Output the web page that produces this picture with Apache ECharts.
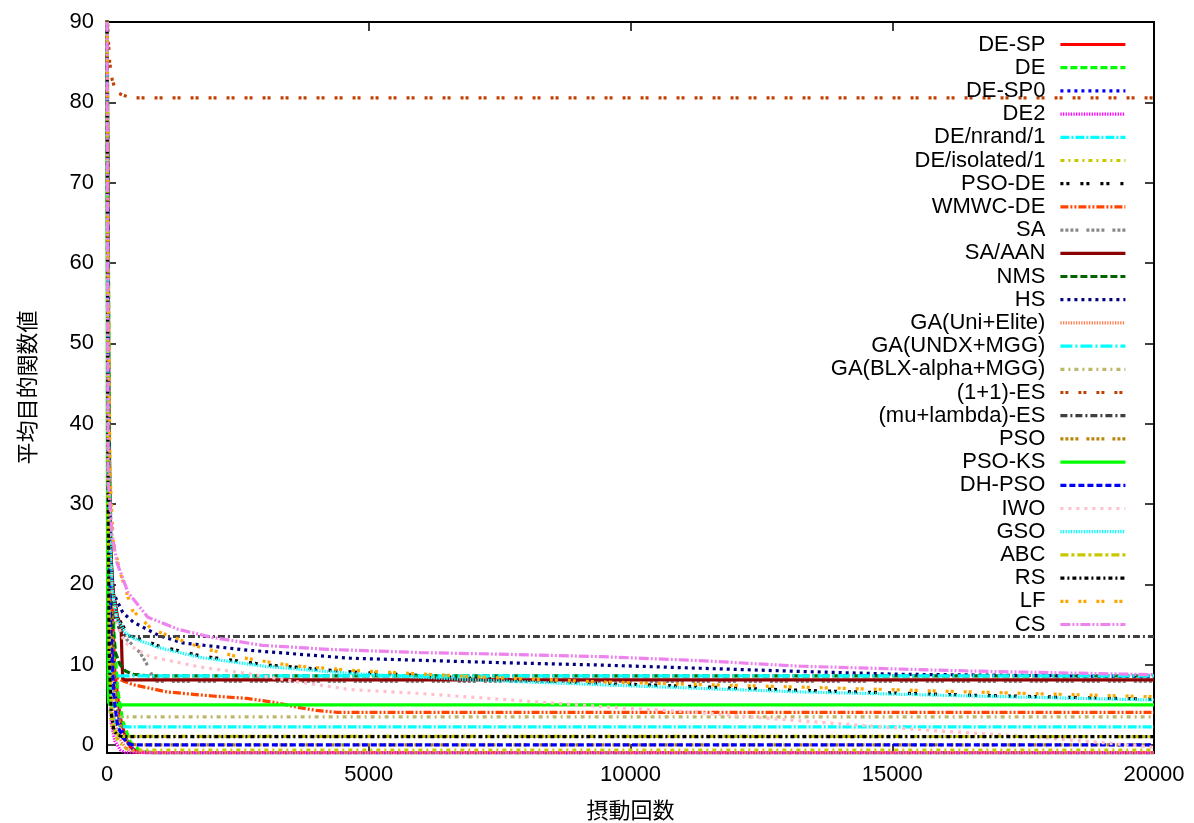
<!DOCTYPE html>
<html>
<head>
<meta charset="utf-8">
<script src="https://cdn.jsdelivr.net/npm/echarts@6/dist/echarts.min.js"></script>
<style>
  html, body { margin: 0; padding: 0; background: #ffffff; }
  #chart { width: 1194px; height: 823px; }
</style>
</head>
<body>
<div id="chart"></div>
<script>
// Convergence curves: [evaluation count, mean objective value]
const deSp        = [[0,95],[40,40],[80,20],[150,9],[250,3.5],[350,1],[450,-0.3],[600,-0.85],[800,-0.95],[20000,-0.95]];
const de          = [[0,95],[50,35],[100,18],[200,7],[300,3],[450,0.3],[650,-0.8],[900,-0.95],[20000,-0.95]];
const deSp0       = [[0,95],[40,30],[90,14],[160,6],[250,2.5],[350,0.6],[500,-0.6],[700,-0.95],[20000,-0.95]];
const de2         = [[0,95],[20,30],[50,8],[80,2.7],[150,0.5],[250,-0.6],[350,-0.95],[20000,-0.95]];
const deNrand     = [[0,95],[20,35],[50,10],[100,4],[160,2.8],[250,2.3],[400,2.25],[20000,2.25]];
const deIsolated  = [[0,95],[20,30],[50,6],[80,3],[150,1.2],[250,0.2],[380,-0.5],[500,-0.65],[20000,-0.65]];
const psoDe       = [[0,95],[20,45],[50,27],[100,20],[200,16],[350,14.3],[500,13.5],[1000,12.3],[1780,11.1],[3000,10],[4650,9.1],[7000,8.3],[9420,7.7],[11500,7.2],[13260,6.8],[16500,6.2],[20000,5.7]];
const wmwcDe      = [[0,95],[20,40],[50,14],[80,10],[150,8.5],[300,8.0],[500,7.5],[1150,6.6],[2000,6.1],[2670,5.8],[3200,5.3],[3630,4.7],[4000,4.3],[4400,4.06],[20000,4.06]];
const sa          = [[0,95],[20,50],[60,25],[120,17],[250,14.5],[380,13.1],[500,12.4],[630,11.5],[750,10.2],[850,8.8],[950,7.9],[20000,7.9]];
const saAan       = [[0,95],[20,45],[60,25],[120,19],[200,16],[270,14.7],[285,11],[300,8.3],[340,8.1],[20000,8.1]];
const nms         = [[0,95],[20,55],[40,35],[60,27],[90,19],[120,14],[160,11.5],[250,10],[350,9.2],[500,8.8],[800,8.6],[20000,8.6]];
const hs          = [[0,95],[20,45],[60,25],[115,19],[300,16.5],[500,15.3],[1000,13.6],[1450,12.7],[2680,11.8],[4640,10.8],[7500,10.25],[9420,9.95],[11330,9.55],[13260,9.15],[15150,8.8],[20000,8.5]];
const gaUni       = [[0,95],[30,30],[70,10],[130,3.5],[220,1],[350,-0.3],[500,-0.85],[700,-0.95],[20000,-0.95]];
const gaUndx      = [[0,95],[15,40],[35,15],[55,9.2],[80,8.7],[120,8.6],[20000,8.6]];
const gaBlx       = [[0,95],[15,35],[35,8],[55,4.2],[80,3.6],[120,3.5],[20000,3.5]];
const es11        = [[0,92],[20,88.5],[50,85],[100,82.8],[150,81.8],[200,81.2],[300,80.9],[400,80.7],[600,80.55],[20000,80.55]];
const esMuLambda  = [[0,95],[15,50],[40,28],[80,20],[150,16],[250,14.2],[350,13.6],[500,13.5],[20000,13.5]];
const pso         = [[0,95],[30,45],[70,22],[130,9],[200,4],[300,1.3],[420,0.2],[550,0.02],[20000,0.02]];
const psoKs       = [[0,95],[5,40],[12,20],[20,8],[30,5.3],[60,5.0],[20000,4.98]];
const dhPso       = [[0,95],[30,35],[70,15],[130,6],[200,2.5],[300,0.9],[400,0.25],[480,0],[20000,0]];
const iwo         = [[0,95],[25,40],[60,24],[100,19],[200,15],[340,12.7],[820,11],[1780,9.7],[2670,8.9],[3600,7.9],[4640,6.9],[6000,6.4],[7500,5.7],[9420,4.8],[11330,4.0],[13240,3.0],[14820,2.25],[16000,1.7],[17690,1.0],[19000,0.3],[20000,-0.3]];
const gso         = [[0,95],[20,43],[50,26],[100,19.5],[200,15.6],[350,14],[500,13.3],[1000,12.1],[1780,10.9],[3000,9.8],[4650,8.9],[7000,8.1],[9420,7.5],[11500,7.0],[13260,6.6],[16500,6.1],[20000,5.6]];
const abc         = [[0,95],[20,30],[50,10],[90,4],[140,2],[200,1.3],[300,1.08],[20000,1.05]];
const rs          = [[0,95],[15,40],[40,12],[80,4],[130,1.8],[200,1.2],[300,1.05],[20000,1.05]];
const lf          = [[0,95],[20,60],[57,34],[115,25.5],[250,21.5],[480,16.8],[860,14.4],[1800,12.1],[2550,10.9],[3500,9.9],[4650,9.3],[7000,8.5],[9420,7.85],[11500,7.5],[13260,7.2],[16500,6.6],[20000,6.0]];
const cs          = [[0,95],[10,57],[20,33],[100,26],[190,22.7],[400,19],[780,15.9],[1360,14.4],[2000,13.4],[2970,12.4],[4230,11.9],[6000,11.5],[7500,11.3],[9420,11.0],[11330,10.5],[13260,9.8],[16500,9.2],[20000,8.75]];

const seriesNames = ['DE-SP','DE','DE-SP0','DE2','DE/nrand/1','DE/isolated/1','PSO-DE','WMWC-DE','SA','SA/AAN','NMS','HS',
  'GA(Uni+Elite)','GA(UNDX+MGG)','GA(BLX-alpha+MGG)','(1+1)-ES','(mu+lambda)-ES','PSO','PSO-KS','DH-PSO','IWO','GSO','ABC','RS','LF','CS'];
const seriesData = [deSp, de, deSp0, de2, deNrand, deIsolated, psoDe, wmwcDe, sa, saAan, nms, hs,
  gaUni, gaUndx, gaBlx, es11, esMuLambda, pso, psoKs, dhPso, iwo, gso, abc, rs, lf, cs];

const xTicks = [0, 5000, 10000, 15000, 20000];
const yTicks = [0, 10, 20, 30, 40, 50, 60, 70, 80, 90];

// colour and dash pattern for each curve, in the same order as the names
const styles = [
  { color: '#ff0000', dash: 'solid' },
  { color: '#00ff00', dash: [7, 3] },
  { color: '#0000ff', dash: [3, 4] },
  { color: '#ff00ff', dash: [1.3, 1.3] },
  { color: '#00ffff', dash: [9, 2, 2, 2] },
  { color: '#c8c800', dash: [4, 4, 2, 4] },
  { color: '#000000', dash: [3, 3, 3, 11] },
  { color: '#ff4500', dash: [8, 2, 2, 2, 2, 2] },
  { color: '#888888', dash: [3, 2, 3, 2, 3, 2, 3, 8] },
  { color: '#8b0000', dash: 'solid' },
  { color: '#006400', dash: [7, 3] },
  { color: '#000080', dash: [3, 4] },
  { color: '#ff7f50', dash: [1.3, 1.3] },
  { color: '#00ffff', dash: [12, 3, 2, 3] },
  { color: '#bdb76b', dash: [4, 4, 2, 4] },
  { color: '#c04000', dash: [3, 2, 3, 10] },
  { color: '#404040', dash: [7, 3, 2, 3] },
  { color: '#b8860b', dash: [3, 2, 3, 2, 3, 2, 3, 8] },
  { color: '#00ff00', dash: 'solid' },
  { color: '#0000ff', dash: [6, 3] },
  { color: '#ffc0cb', dash: [3, 5] },
  { color: '#00ffff', dash: [1.3, 1.3] },
  { color: '#c8c800', dash: [8, 3, 3, 3] },
  { color: '#000000', dash: [4, 3, 2, 3] },
  { color: '#ffa500', dash: [3, 2, 3, 10] },
  { color: '#ee82ee', dash: [10, 2, 2, 2, 2, 2] }
];

const FONT = '"Liberation Sans", Arial, sans-serif';
const CJK = '"Noto Sans CJK JP", "Noto Sans CJK SC", sans-serif';
const LINE_W = 3.2;

const series = seriesNames.map((name, i) => ({
  name: name,
  type: 'line',
  xAxisIndex: 0,
  yAxisIndex: 0,
  data: seriesData[i],
  symbol: 'none',
  showSymbol: false,
  clip: true,
  color: styles[i].color,
  lineStyle: { color: styles[i].color, width: LINE_W, type: styles[i].dash },
  emphasis: { disabled: true }
}));

const tickStyle = { show: true, inside: true, length: 9, lineStyle: { color: '#000', width: 1.5 } };
const axisLineStyle = { show: true, onZero: false, lineStyle: { color: '#000', width: 2 } };

const option = {
  animation: false,
  backgroundColor: '#ffffff',
  grid: { left: 107, right: 40, top: 22, bottom: 70, containLabel: false, outerBoundsMode: 'none' },
  legend: {
    data: seriesNames,
    orient: 'vertical',
    align: 'right',
    right: 67,
    top: 33,
    padding: 0,
    itemGap: 0.2,
    itemWidth: 65,
    itemHeight: 14,
    selectedMode: false,
    itemStyle: { opacity: 0 },
    lineStyle: { width: LINE_W },
    textStyle: { fontFamily: FONT, fontSize: 22, color: '#000', lineHeight: 23, padding: [0, 10, 0, 0] }
  },
  xAxis: [
    {
      type: 'value', position: 'bottom', min: 0, max: 20000, interval: 5000,
      name: '摂動回数', nameLocation: 'middle', nameGap: 46,
      nameTextStyle: { fontFamily: CJK, fontSize: 22, color: '#000' },
      axisLine: axisLineStyle,
      axisTick: tickStyle,
      axisLabel: { fontFamily: FONT, fontSize: 22, color: '#000', margin: 11, customValues: xTicks,
                   formatter: v => String(v) },
      splitLine: { show: false }
    },
    {
      type: 'value', position: 'top', min: 0, max: 20000, interval: 5000,
      axisLine: axisLineStyle,
      axisTick: tickStyle,
      axisLabel: { show: false },
      splitLine: { show: false }
    }
  ],
  yAxis: [
    {
      type: 'value', position: 'left', min: -1, max: 90,
      name: '平均目的関数値', nameLocation: 'middle', nameGap: 69, nameRotate: 90,
      nameTextStyle: { fontFamily: CJK, fontSize: 22, color: '#000' },
      axisLine: axisLineStyle,
      axisTick: Object.assign({}, tickStyle, { customValues: yTicks }),
      axisLabel: { fontFamily: FONT, fontSize: 22, color: '#000', margin: 13, customValues: yTicks,
                   formatter: v => String(v) },
      splitLine: { show: false }
    },
    {
      type: 'value', position: 'right', min: -1, max: 90,
      axisLine: axisLineStyle,
      axisTick: Object.assign({}, tickStyle, { customValues: yTicks }),
      axisLabel: { show: false, customValues: yTicks },
      splitLine: { show: false }
    }
  ],
  series: series
};

const chart = echarts.init(document.getElementById('chart'), null, { renderer: 'canvas' });
chart.setOption(option);
</script>
</body>
</html>
